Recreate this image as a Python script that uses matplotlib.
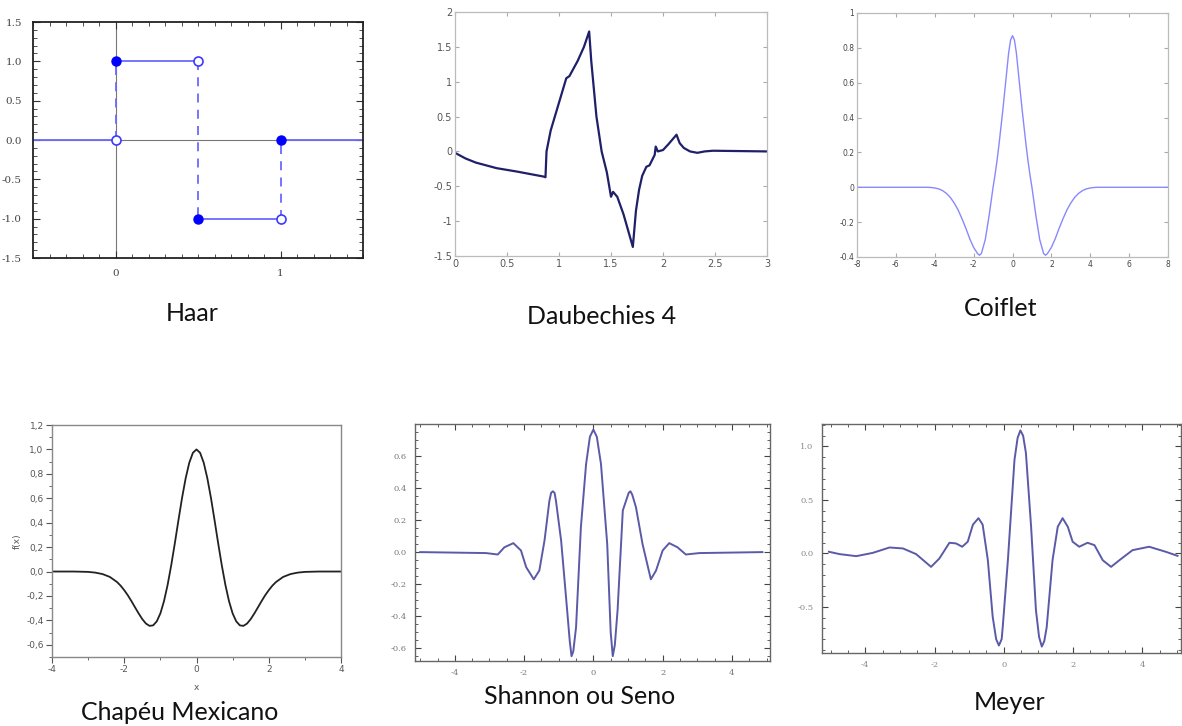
import matplotlib
matplotlib.use("Agg")
import matplotlib.pyplot as plt
from matplotlib.ticker import MultipleLocator, FixedLocator

# ---- data ----
# Haar
haar_flat = [(-0.5, 0.0, 0.0), (0.0, 0.5, 1.0), (0.5, 1.0, -1.0), (1.0, 1.5, 0.0)]
haar_jumps = [(0.0, 0.0, 1.0), (0.5, 1.0, -1.0), (1.0, -1.0, 0.0)]
haar_filled_x = [0.0, 0.5, 1.0]
haar_filled_y = [1.0, -1.0, 0.0]
haar_open_x = [0.0, 0.5, 1.0]
haar_open_y = [0.0, 1.0, -1.0]

# Daubechies 4
db4_x = [0.0, 0.1, 0.2, 0.4, 0.6, 0.85, 0.87, 0.88, 0.92, 0.98, 1.03, 1.07, 1.1,
         1.18, 1.24, 1.29, 1.31, 1.36, 1.41, 1.46, 1.5, 1.52, 1.56, 1.62, 1.71,
         1.74, 1.77, 1.8, 1.84, 1.87, 1.92, 1.93, 1.95, 2.0, 2.05, 2.13, 2.16,
         2.2, 2.26, 2.33, 2.4, 2.48, 3.0]
db4_y = [-0.02, -0.1, -0.16, -0.24, -0.29, -0.36, -0.37, 0.0, 0.3, 0.6, 0.85,
         1.05, 1.08, 1.3, 1.5, 1.72, 1.3, 0.5, 0.0, -0.3, -0.65, -0.58, -0.65,
         -0.9, -1.37, -0.85, -0.55, -0.35, -0.22, -0.2, -0.05, 0.07, 0.0, 0.02,
         0.1, 0.24, 0.12, 0.05, 0.0, -0.02, 0.0, 0.01, 0.0]

# Coiflet
coif_x = [-8.0, -4.4, -4.2, -4.0, -3.8, -3.6, -3.4, -3.2, -3.0, -2.8, -2.6, -2.4,
          -2.2, -2.0, -1.8, -1.7, -1.6, -1.4, -1.2, -1.0, -0.9, -0.8, -0.7, -0.6,
          -0.5, -0.4, -0.3, -0.2, -0.1, 0.0, 0.1, 0.2, 0.3, 0.4, 0.5, 0.6, 0.7,
          0.8, 0.9, 1.0, 1.2, 1.4, 1.6, 1.7, 1.8, 2.0, 2.2, 2.4, 2.6, 2.8, 3.0,
          3.2, 3.4, 3.6, 3.8, 4.0, 4.2, 4.4, 8.0]
coif_y = [0.0, 0.0, -0.001, -0.004, -0.009, -0.019, -0.035, -0.058, -0.09, -0.13,
          -0.18, -0.235, -0.295, -0.345, -0.38, -0.39, -0.38, -0.3, -0.16, 0.0,
          0.07, 0.15, 0.24, 0.34, 0.44, 0.55, 0.66, 0.77, 0.845, 0.87, 0.845,
          0.77, 0.66, 0.55, 0.44, 0.34, 0.24, 0.15, 0.07, 0.0, -0.16, -0.3, -0.38,
          -0.39, -0.38, -0.345, -0.295, -0.235, -0.18, -0.13, -0.09, -0.058,
          -0.035, -0.019, -0.009, -0.004, -0.001, 0.0, 0.0]

# Chapeu Mexicano
mex_x = [-4.0, -3.4, -3.0, -2.8, -2.6, -2.4, -2.2, -2.1, -2.0, -1.9, -1.8, -1.7,
         -1.6, -1.5, -1.4, -1.3, -1.2, -1.1, -1.0, -0.9, -0.8, -0.7, -0.6, -0.5,
         -0.4, -0.3, -0.2, -0.1, 0.0, 0.1, 0.2, 0.3, 0.4, 0.5, 0.6, 0.7, 0.8, 0.9,
         1.0, 1.1, 1.2, 1.3, 1.4, 1.5, 1.6, 1.7, 1.8, 1.9, 2.0, 2.1, 2.2, 2.4,
         2.6, 2.8, 3.0, 3.4, 4.0]
mex_y = [0.0, 0.0, -0.003, -0.009, -0.021, -0.044, -0.086, -0.116, -0.153, -0.195,
         -0.243, -0.294, -0.344, -0.39, -0.426, -0.445, -0.441, -0.408, -0.343,
         -0.243, -0.11, 0.051, 0.231, 0.42, 0.603, 0.764, 0.891, 0.972, 1.0, 0.972,
         0.891, 0.764, 0.603, 0.42, 0.231, 0.051, -0.11, -0.243, -0.343, -0.408,
         -0.441, -0.445, -0.426, -0.39, -0.344, -0.294, -0.243, -0.195, -0.153,
         -0.116, -0.086, -0.044, -0.021, -0.009, -0.003, 0.0, 0.0]

# Shannon
shan_x = [-5.0, -3.1, -2.76, -2.57, -2.31, -2.09, -1.94, -1.72, -1.56, -1.41,
          -1.27, -1.22, -1.17, -1.12, -1.08, -0.93, -0.79, -0.68, -0.63, -0.58,
          -0.5, -0.36, -0.21, -0.1, 0.0, 0.1, 0.22, 0.4, 0.5, 0.56, 0.62, 0.7,
          0.85, 1.02, 1.07, 1.12, 1.23, 1.42, 1.66, 1.81, 2.0, 2.19, 2.43, 2.67,
          3.06, 4.88]
shan_y = [0.0, -0.006, -0.015, 0.03, 0.056, 0.01, -0.094, -0.17, -0.115, 0.073,
          0.32, 0.37, 0.38, 0.37, 0.32, 0.07, -0.28, -0.56, -0.65, -0.62, -0.47,
          0.156, 0.55, 0.72, 0.765, 0.72, 0.55, 0.05, -0.5, -0.65, -0.58, -0.36,
          0.26, 0.37, 0.38, 0.36, 0.28, 0.05, -0.17, -0.115, 0.01, 0.056, 0.03,
          -0.015, -0.006, 0.0]
shan_ticks = [0.6, 0.4, 0.2, 0.0, -0.2, -0.4, -0.6]

# Meyer
mey_x = [-5.05, -4.74, -4.26, -3.78, -3.3, -2.91, -2.53, -2.1, -1.86, -1.57, -1.38,
         -1.2, -1.04, -0.89, -0.73, -0.61, -0.46, -0.32, -0.22, -0.14, -0.06,
         -0.03, 0.12, 0.31, 0.4, 0.48, 0.56, 0.64, 0.79, 0.93, 1.02, 1.1, 1.17,
         1.24, 1.41, 1.56, 1.7, 1.85, 1.99, 2.18, 2.42, 2.62, 2.86, 3.1, 3.34,
         3.72, 4.2, 4.68, 5.02]
mey_y = [0.016, -0.006, -0.025, 0.006, 0.056, 0.047, -0.006, -0.125, -0.047, 0.1,
         0.094, 0.063, 0.11, 0.27, 0.33, 0.27, -0.06, -0.59, -0.8, -0.86, -0.8,
         -0.69, -0.06, 0.875, 1.08, 1.15, 1.1, 0.94, 0.25, -0.53, -0.78, -0.87,
         -0.82, -0.69, -0.06, 0.25, 0.33, 0.25, 0.11, 0.063, 0.1, 0.078, -0.063,
         -0.125, -0.063, 0.031, 0.063, 0.016, -0.022]

captions = ["Haar", "Daubechies 4", "Coiflet", "Chapéu Mexicano", "Shannon ou Seno", "Meyer"]

W, H = 1182, 726
fig = plt.figure(figsize=(W / 100, H / 100), dpi=100)


def px_axes(l, t, r, b):
    return fig.add_axes([l / W, 1 - b / H, (r - l) / W, (b - t) / H])


def frame(ax, color, lw=1.0):
    for s in ax.spines.values():
        s.set_color(color)
        s.set_linewidth(lw)


# ---- Haar ----
ax = px_axes(33, 22, 363, 258)
ax.axhline(0, color='#777777', lw=0.8, zorder=1)
ax.axvline(0, color='#777777', lw=0.8, zorder=1)
for x0, x1, yv in haar_flat:
    ax.plot([x0, x1], [yv, yv], color='#6a6aff', lw=1.3, zorder=2)
for xv, y0, y1 in haar_jumps:
    ax.plot([xv, xv], [y0, y1], color='#6a6aff', lw=1.3, ls=(0, (5, 4)), zorder=2)
ax.plot(haar_filled_x, haar_filled_y, 'o', ms=6.5, color='#0000ff', zorder=3)
ax.plot(haar_open_x, haar_open_y, 'o', ms=6.5, mfc='white', mec='#3a3aff', mew=1.2, zorder=3)
ax.set_xlim(-0.5, 1.5)
ax.set_ylim(-1.5, 1.5)
ax.set_xticks([0, 1])
ax.set_xticklabels(['0', '1'])
ax.xaxis.set_minor_locator(MultipleLocator(0.1))
ax.set_yticks([1.5, 1.0, 0.5, 0.0, -0.5, -1.0, -1.5])
ax.set_yticklabels(['1.5', '1.0', '0.5', '0.0', '-0.5', '-1.0', '-1.5'])
ax.yaxis.set_minor_locator(MultipleLocator(0.1))
ax.tick_params(which='both', direction='in', top=True, right=True, colors='#333333')
ax.tick_params(which='major', length=5, labelsize=7.5, pad=8)
ax.tick_params(which='minor', length=3)
for lab in ax.get_xticklabels() + ax.get_yticklabels():
    lab.set_family('serif')
    lab.set_color('#444444')
frame(ax, '#222222', 1.3)

# ---- Daubechies 4 ----
ax = px_axes(455, 12, 767, 256)
ax.plot(db4_x, db4_y, color='#1f1f6a', lw=1.6)
ax.set_xlim(0, 3)
ax.set_ylim(-1.5, 2)
ax.set_xticks([0, 0.5, 1, 1.5, 2, 2.5, 3])
ax.set_xticklabels(['0', '0.5', '1', '1.5', '2', '2.5', '3'])
ax.set_yticks([-1.5, -1, -0.5, 0, 0.5, 1, 1.5, 2])
ax.set_yticklabels(['-1.5', '-1', '-0.5', '0', '0.5', '1', '1.5', '2'])
ax.tick_params(direction='in', top=True, right=True, length=3, labelsize=7,
               colors='#aaaaaa', labelcolor='#555555', pad=2)
frame(ax, '#bbbbbb', 0.9)

# ---- Coiflet ----
ax = px_axes(857, 13, 1168, 257)
ax.plot(coif_x, coif_y, color='#8888ff', lw=1.0)
ax.set_xlim(-8, 8)
ax.set_ylim(-0.4, 1)
ax.set_xticks([-8, -6, -4, -2, 0, 2, 4, 6, 8])
ax.set_xticklabels(['-8', '-6', '-4', '-2', '0', '2', '4', '6', '8'])
ax.set_yticks([-0.4, -0.2, 0, 0.2, 0.4, 0.6, 0.8, 1])
ax.set_yticklabels(['-0.4', '-0.2', '0', '0.2', '0.4', '0.6', '0.8', '1'])
ax.tick_params(direction='in', top=True, right=True, length=3, labelsize=5.5,
               colors='#aaaaaa', labelcolor='#444444', pad=2)
frame(ax, '#bbbbbb', 0.9)

# ---- Chapeu Mexicano ----
ax = px_axes(52, 425, 341, 657)
ax.plot(mex_x, mex_y, color='#222222', lw=1.3)
ax.set_xlim(-4, 4)
ax.set_ylim(-0.7, 1.2)
ax.set_xticks([-4, -2, 0, 2, 4])
ax.set_xticklabels(['-4', '-2', '0', '2', '4'])
ax.xaxis.set_minor_locator(MultipleLocator(1))
ax.set_yticks([-0.6, -0.4, -0.2, 0.0, 0.2, 0.4, 0.6, 0.8, 1.0, 1.2])
ax.set_yticklabels(['-0,6', '-0,4', '-0,2', '0,0', '0,2', '0,4', '0,6', '0,8', '1,0', '1,2'])
ax.yaxis.set_minor_locator(MultipleLocator(0.1))
ax.tick_params(which='both', direction='out', colors='#555555', labelsize=6.5, pad=2)
ax.tick_params(which='major', length=4)
ax.tick_params(which='minor', length=2)
ax.set_xlabel('x', fontsize=6.5, color='#555555', labelpad=6)
ax.set_ylabel('f(x)', fontsize=6.5, color='#555555', labelpad=3)
frame(ax, '#888888', 1.0)

# ---- Shannon ----
ax = px_axes(415, 424, 770, 661)
ax.plot(shan_x, shan_y, color='#5a5aa8', lw=1.4)
ax.set_xlim(-5.15, 5.1)
ax.set_ylim(-0.68, 0.8)
ax.set_xticks([-4, -2, 0, 2, 4])
ax.set_xticklabels(['-4', '-2', '0', '2', '4'])
ax.xaxis.set_minor_locator(MultipleLocator(0.5))
ax.yaxis.set_major_locator(FixedLocator(shan_ticks))
ax.set_yticklabels(['0.6', '0.4', '0.2', '0.0', '-0.2', '-0.4', '-0.6'])
ax.yaxis.set_minor_locator(MultipleLocator(0.05))
ax.tick_params(which='both', direction='in', top=True, right=True, colors='#444444',
               labelsize=6, labelcolor='#777777', pad=6)
ax.tick_params(which='major', length=4)
ax.tick_params(which='minor', length=2)
for lab in ax.get_xticklabels() + ax.get_yticklabels():
    lab.set_family('serif')
frame(ax, '#666666', 1.0)

# ---- Meyer ----
ax = px_axes(822, 424, 1181, 653)
ax.plot(mey_x, mey_y, color='#5a5aa8', lw=1.4)
ax.set_xlim(-5.25, 5.12)
ax.set_ylim(-0.93, 1.21)
ax.set_xticks([-4, -2, 0, 2, 4])
ax.set_xticklabels(['-4', '-2', '0', '2', '4'])
ax.xaxis.set_minor_locator(MultipleLocator(0.5))
ax.set_yticks([-0.5, 0.0, 0.5, 1.0])
ax.set_yticklabels(['-0.5', '0.0', '0.5', '1.0'])
ax.yaxis.set_minor_locator(MultipleLocator(0.1))
ax.tick_params(which='both', direction='in', top=True, right=True, colors='#444444',
               labelsize=6, labelcolor='#888888', pad=6)
ax.tick_params(which='major', length=4)
ax.tick_params(which='minor', length=2)
for lab in ax.get_xticklabels() + ax.get_yticklabels():
    lab.set_family('serif')
frame(ax, '#666666', 1.0)

# ---- captions ----
cap_pos = [(192, 313), (602, 317), (1001, 308), (180, 712), (580, 697), (1010, 703)]
for txt, (cx, cy) in zip(captions, cap_pos):
    fig.text(cx / W, 1 - cy / H, txt, ha='center', va='center', fontsize=18,
             family='Lato', color='#111111')

fig.savefig('out.png', dpi=100)
